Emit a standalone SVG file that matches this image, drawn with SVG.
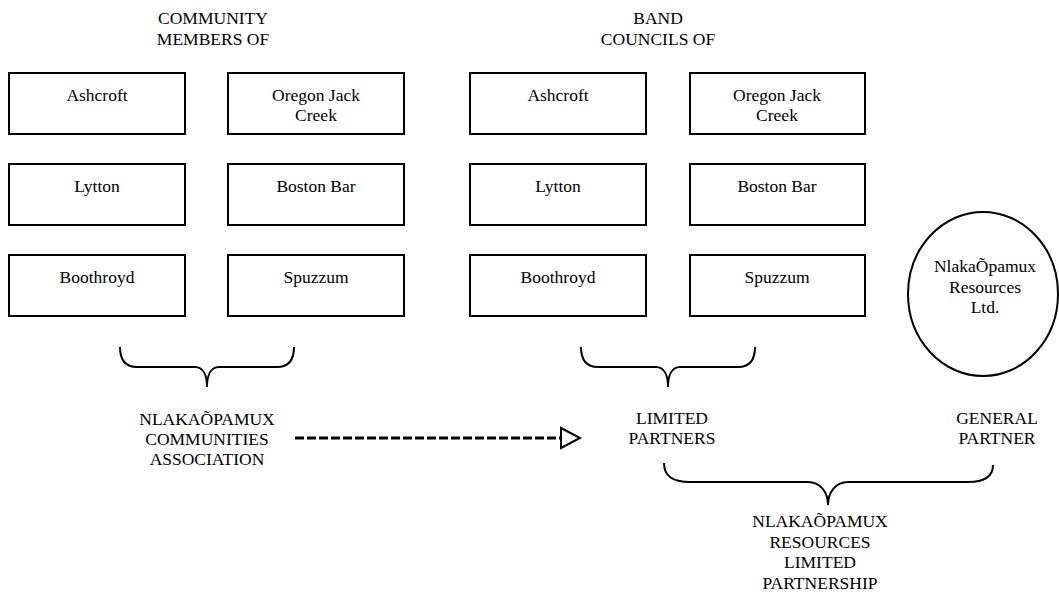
<svg xmlns="http://www.w3.org/2000/svg" width="1059" height="592" viewBox="0 0 1059 592">
<style>
text{font-size:17.5px;fill:#000;text-anchor:middle}
.box{fill:#fff;stroke:#000;stroke-width:2}
.brace{fill:none;stroke:#000;stroke-width:2}
.dash{fill:none;stroke:#000;stroke-width:3;stroke-dasharray:9,3}
</style>
<rect width="1059" height="592" fill="#fff"/>
<g font-family="Times New Roman, Liberation Serif, Tinos, DejaVu Serif, Noto Serif, serif">
<g id="header-community"><text x="213" y="24">COMMUNITY</text><text x="213" y="45">MEMBERS OF</text></g>
<g id="header-band"><text x="658" y="24">BAND</text><text x="658" y="45">COUNCILS OF</text></g>

<g id="cm-ashcroft"><rect class="box" x="9" y="73" width="176" height="61"/><text x="97" y="101">Ashcroft</text></g>
<g id="cm-oregon"><rect class="box" x="228" y="73" width="176" height="61"/><text x="316" y="101">Oregon Jack</text><text x="316" y="121">Creek</text></g>
<g id="cm-lytton"><rect class="box" x="9" y="164" width="176" height="61"/><text x="97" y="192">Lytton</text></g>
<g id="cm-boston"><rect class="box" x="228" y="164" width="176" height="61"/><text x="316" y="192">Boston Bar</text></g>
<g id="cm-boothroyd"><rect class="box" x="9" y="255" width="176" height="61"/><text x="97" y="283">Boothroyd</text></g>
<g id="cm-spuzzum"><rect class="box" x="228" y="255" width="176" height="61"/><text x="316" y="283">Spuzzum</text></g>

<g id="bc-ashcroft"><rect class="box" x="470" y="73" width="176" height="61"/><text x="558" y="101">Ashcroft</text></g>
<g id="bc-oregon"><rect class="box" x="690" y="73" width="175" height="61"/><text x="777" y="101">Oregon Jack</text><text x="777" y="121">Creek</text></g>
<g id="bc-lytton"><rect class="box" x="470" y="164" width="176" height="61"/><text x="558" y="192">Lytton</text></g>
<g id="bc-boston"><rect class="box" x="690" y="164" width="175" height="61"/><text x="777" y="192">Boston Bar</text></g>
<g id="bc-boothroyd"><rect class="box" x="470" y="255" width="176" height="61"/><text x="558" y="283">Boothroyd</text></g>
<g id="bc-spuzzum"><rect class="box" x="690" y="255" width="175" height="61"/><text x="777" y="283">Spuzzum</text></g>

<g id="resources-ltd"><ellipse cx="983" cy="294" rx="75" ry="82" fill="#fff" stroke="#000" stroke-width="2"/>
<text x="985" y="272">NlakaÕpamux</text><text x="985" y="293">Resources</text><text x="985" y="313">Ltd.</text></g>

<g id="communities-association"><text x="207" y="425">NLAKAÕPAMUX</text><text x="207" y="445">COMMUNITIES</text><text x="207" y="465">ASSOCIATION</text></g>
<g id="limited-partners"><text x="672" y="424">LIMITED</text><text x="672" y="444">PARTNERS</text></g>
<g id="general-partner"><text x="997" y="424">GENERAL</text><text x="997" y="444">PARTNER</text></g>
<g id="resources-lp"><text x="820" y="527">NLAKAÕPAMUX</text><text x="820" y="548">RESOURCES</text><text x="820" y="568">LIMITED</text><text x="820" y="589">PARTNERSHIP</text></g>
</g>
<g id="connectors">
<path class="brace" d="M120,347 C120,360 125,367 137,367 L195,367 C203,367 207,375 207,387 C207,375 211,367 219,367 L277,367 C289,367 294,360 294,347"/>
<path class="brace" d="M581,347 C581,360 586,367 598,367 L656,367 C664,367 668,375 668,387 C668,375 672,367 680,367 L738,367 C750,367 755,360 755,347"/>
<path class="brace" d="M664,463 C664,476 672,482 690,482 L808,482 C820,482 828,492 828,505 C828,492 836,482 848,482 L968,482 C986,482 993,476 993,465"/>
<line class="dash" x1="295" y1="438" x2="561" y2="438"/>
<path d="M561,428 L580,438 L561,448 Z" fill="#fff" stroke="#000" stroke-width="2"/>
</g>
</svg>
